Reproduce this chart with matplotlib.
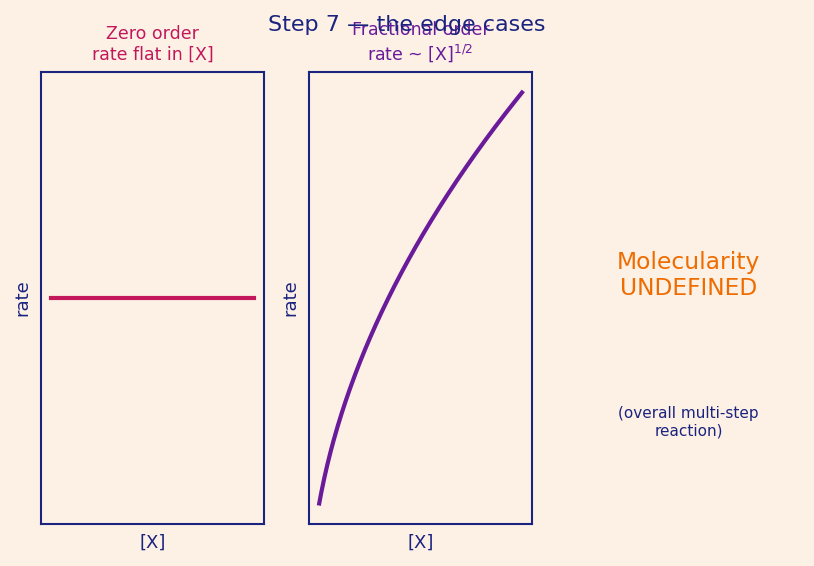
import numpy as np
import matplotlib
matplotlib.use("Agg")
import matplotlib.pyplot as plt

# data
conc_zero = np.linspace(0.05, 1.0, 50)
rate_zero = np.full_like(conc_zero, 0.5)
conc_frac = np.linspace(0.05, 1.0, 200)
rate_frac = np.sqrt(conc_frac)

BG = "#fdf1e6"
NAVY = "#1a237e"
CRIMSON = "#c2185b"
PURPLE = "#6a1b9a"
ORANGE = "#ef6c00"

fig, axes = plt.subplots(1, 3, figsize=(8.14, 5.66), dpi=100)
fig.patch.set_facecolor(BG)
fig.subplots_adjust(left=0.0504, right=0.983, bottom=0.0742, top=0.8728, wspace=0.2018)

ax1, ax2, ax3 = axes
for ax in (ax1, ax2):
    ax.set_facecolor(BG)
    ax.set_xticks([])
    ax.set_yticks([])
    for s in ax.spines.values():
        s.set_color(NAVY)
        s.set_linewidth(1.5)
    ax.set_xlabel("[X]", color=NAVY, fontsize=13, labelpad=7)
    ax.set_ylabel("rate", color=NAVY, fontsize=13, labelpad=7)

ax1.plot(conc_zero, rate_zero, color=CRIMSON, lw=3)
ax1.set_ylim(0, 1)
ax1.set_title("Zero order\nrate flat in [X]", color=CRIMSON, fontsize=12.5, pad=9)

ax2.plot(conc_frac, rate_frac, color=PURPLE, lw=3)
ax2.set_title("Fractional order\nrate ~ [X]$^{1/2}$", color=PURPLE, fontsize=12.5, pad=9)

ax3.axis("off")
ax3.text(0.5, 0.55, "Molecularity\nUNDEFINED", color=ORANGE, fontsize=16.8,
         ha="center", va="center", transform=ax3.transAxes)
ax3.text(0.5, 0.225, "(overall multi-step\nreaction)", color=NAVY, fontsize=11,
         ha="center", va="center", transform=ax3.transAxes)

fig.suptitle("Step 7 — the edge cases", color=NAVY, fontsize=16, y=0.973)

fig.savefig("out.png", dpi=100, facecolor=BG)
